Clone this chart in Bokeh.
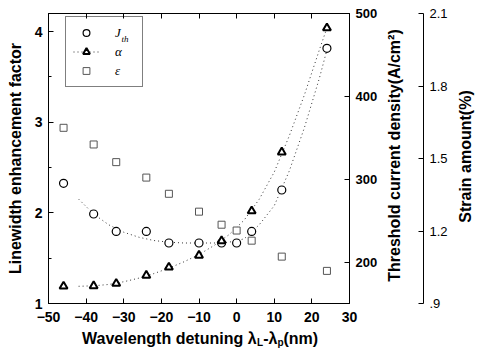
import math
from bokeh.plotting import figure
from bokeh.layouts import row, column
from bokeh.models import Range1d, LinearAxis, FixedTicker, Legend, LegendItem, Label
from bokeh.embed import file_html
from bokeh.resources import INLINE

# ---- data ----
detuning = [-46, -38, -32, -24, -18, -10, -4, 0, 4, 12, 24]
jth = [295, 258, 237, 237, 223, 223, 223, 223, 237, 287, 458]
detuning_alpha = [-46, -38, -32, -24, -18, -10, -4, 4, 12, 24]
alpha = [1.19, 1.195, 1.22, 1.31, 1.40, 1.53, 1.69, 2.02, 2.67, 4.04]
strain = [1.627, 1.558, 1.485, 1.421, 1.354, 1.28, 1.226, 1.202, 1.16, 1.094, 1.035]

# dotted guide curves
fit_x = [-42, -38, -34, -30, -26, -22, -18, -14, -10, -6, -2, 2, 6, 10, 14, 18, 22, 24]
fit_jth = [276, 258, 245, 236, 230, 226, 224, 223, 223, 223, 224, 228, 245, 268, 310, 362, 422, 456]
fit_alpha = [1.19, 1.195, 1.21, 1.24, 1.28, 1.33, 1.39, 1.46, 1.54, 1.64, 1.76, 1.92, 2.15, 2.45, 2.85, 3.30, 3.80, 4.04]

x_ticks = [-50, -40, -30, -20, -10, 0, 10, 20, 30]
left_ticks = [1, 2, 3, 4]
left_minor = [1.5, 2.5, 3.5]
jth_ticks = [200, 300, 400, 500]
strain_ticks = [0.9, 1.2, 1.5, 1.8, 2.1]

FONT = "Liberation Sans"
FRAME_H = 290
TOP, BOT = 13, 26
ROW_H = TOP + FRAME_H + BOT
TITLE_H = 348 - ROW_H
W_MAIN, W_B, W_C = 380, 70, 26


def style_axis(ax, size="14px", bold=True):
    ax.axis_line_color = "black"
    ax.major_tick_line_color = "black"
    ax.minor_tick_line_color = "black"
    ax.major_tick_in = 5
    ax.major_tick_out = 0
    ax.minor_tick_in = 3
    ax.minor_tick_out = 0
    ax.major_label_text_font = FONT
    ax.major_label_text_font_style = "bold" if bold else "normal"
    ax.major_label_text_font_size = size
    ax.major_label_text_color = "black"
    ax.axis_label_text_font = FONT
    ax.axis_label_text_font_style = "bold"
    ax.axis_label_text_font_size = "16px"
    ax.axis_label_text_color = "black"


def blank(fig):
    fig.grid.visible = False
    fig.outline_line_color = None
    fig.background_fill_color = "white"
    fig.border_fill_color = "white"


def add_label(fig, text, x, y, size, angle=0.0, font=FONT, style="bold", align="left",
              level="annotation"):
    fig.add_layout(Label(x=x, y=y, x_units="screen", y_units="screen", text=text, angle=angle,
                         text_font=font, text_font_style=style, text_font_size=size,
                         text_baseline="middle", text_align=align, text_color="black",
                         level=level))


# ---------------- main plot ----------------
p = figure(width=W_MAIN, height=ROW_H, output_backend="svg", toolbar_location=None,
           x_range=Range1d(-50, 30), y_range=Range1d(1, 4.2),
           min_border_left=48, min_border_right=29, min_border_top=TOP, min_border_bottom=BOT)
p.extra_y_ranges = {"J": Range1d(150, 500), "eps": Range1d(0.9, 2.1)}
blank(p)
p.outline_line_color = "black"

xa = p.xaxis[0]
style_axis(xa)
xa.ticker = FixedTicker(ticks=x_ticks)
xa.major_label_standoff = 8
xa.axis_label = None

ya = p.yaxis[0]
style_axis(ya)
ya.ticker = FixedTicker(ticks=left_ticks, minor_ticks=left_minor)
ya.major_label_standoff = 6
ya.axis_label = "Linewidth enhancement factor"
ya.axis_label_standoff = 8

top = LinearAxis(ticker=FixedTicker(ticks=x_ticks))
style_axis(top)
top.major_label_text_color = None
top.major_label_text_font_size = "1px"
top.major_label_standoff = 0
p.add_layout(top, "above")

ja = LinearAxis(y_range_name="J", ticker=FixedTicker(ticks=jth_ticks))
style_axis(ja, size="13px")
ja.major_label_standoff = 6
p.add_layout(ja, "right")

line_j = p.line(fit_x, fit_jth, y_range_name="J", line_dash="1 3", line_color="#333", line_width=1)
line_a = p.line(fit_x, fit_alpha, line_dash="1 3", line_color="#333", line_width=1)
circ = p.scatter(detuning, jth, y_range_name="J", marker="circle", size=8,
                 fill_color="white", line_color="black", line_width=1.2)
tri = p.scatter(detuning_alpha, alpha, marker="triangle", size=8,
                fill_color="white", line_color="black", line_width=2)
sq = p.scatter(detuning, strain, y_range_name="eps", marker="square", size=7,
               fill_color="white", line_color="#555", line_width=1)

LEG_X, LEG_H = 17, 69
legend = Legend(items=[LegendItem(label="J", renderers=[circ]),
                       LegendItem(label="α", renderers=[line_a, tri]),
                       LegendItem(label="ε", renderers=[sq])],
                location=(LEG_X, FRAME_H - 5 - LEG_H), padding=7, spacing=2, margin=0,
                glyph_width=26, glyph_height=17, label_height=17, label_standoff=16,
                label_text_font="Liberation Serif", label_text_font_style="italic",
                label_text_font_size="13px", label_text_color="black",
                border_line_color="black", border_line_width=1,
                background_fill_color="white", background_fill_alpha=0)
p.add_layout(legend)
add_label(p, "th", LEG_X + 7 + 26 + 16 + 7, FRAME_H - 5 - 7 - 8 - 5, "9px",
          font="Liberation Serif", style="italic", level="overlay")

# ---------------- threshold title + strain axis ----------------
b = figure(width=W_B, height=ROW_H, output_backend="svg", toolbar_location=None,
           x_range=Range1d(0, 1), y_range=Range1d(0.9, 2.1),
           x_axis_location=None, y_axis_location="right",
           min_border_left=0, min_border_right=24, min_border_top=TOP, min_border_bottom=BOT)
blank(b)
sa = b.yaxis[0]
style_axis(sa, size="13px", bold=False)
sa.ticker = FixedTicker(ticks=strain_ticks)
sa.major_label_overrides = {0.9: ".9"}
sa.major_label_standoff = 6
add_label(b, "Threshold current density(A/cm²)", 14, 148, "16px", angle=math.pi / 2, align="center")

# ---------------- strain title ----------------
c = figure(width=W_C, height=ROW_H, output_backend="svg", toolbar_location=None,
           x_range=Range1d(0, 1), y_range=Range1d(0, 1),
           x_axis_location=None, y_axis_location=None, min_border=0,
           min_border_top=TOP, min_border_bottom=BOT)
blank(c)
add_label(c, "Strain amount(%)", 15, 147, "16px", angle=math.pi / 2, align="center")

# ---------------- x-axis title with subscripts ----------------
d = figure(width=W_MAIN + W_B + W_C, height=TITLE_H, output_backend="svg", toolbar_location=None,
           x_range=Range1d(0, 1), y_range=Range1d(0, 1),
           x_axis_location=None, y_axis_location=None, min_border=0)
blank(d)
x0 = 81.5
add_label(d, "Wavelength detuning λ", x0, 10, "16px")
add_label(d, "L", x0 + 175.1, 6, "10px")
add_label(d, "-λ", x0 + 181.2, 10, "16px")
add_label(d, "p", x0 + 195.4, 6, "10px")
add_label(d, "(nm)", x0 + 201.5, 10, "16px")

layout = column(row(p, b, c), d)
open("out.html", "w").write(file_html(layout, INLINE))
